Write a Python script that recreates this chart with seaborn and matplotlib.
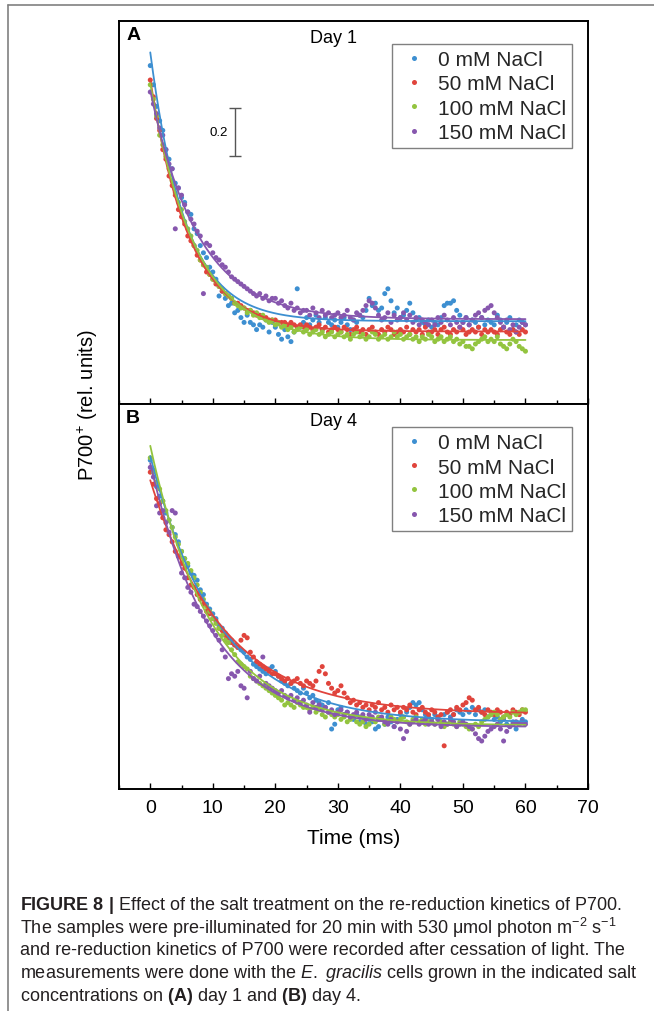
import numpy as np
import pandas as pd
import matplotlib
matplotlib.use("Agg")
import matplotlib.pyplot as plt
import seaborn as sns
from matplotlib.lines import Line2D
from matplotlib.ticker import MultipleLocator

sns.set_theme(style="white")
plt.rcParams['font.family'] = ['Liberation Sans', 'DejaVu Sans']
plt.rcParams['mathtext.fontset'] = 'custom'
plt.rcParams['mathtext.rm'] = 'Liberation Sans'
plt.rcParams['mathtext.it'] = 'Liberation Sans:italic'
plt.rcParams['mathtext.bf'] = 'Liberation Sans:bold'

#Data
CONDITIONS = ["0 mM NaCl", "50 mM NaCl", "100 mM NaCl", "150 mM NaCl"]
COLORS = ["#3d8fd1", "#e0443c", "#93c43f", "#8757ae"]
TIME_STEP = 0.5  # ms between recorded points
time_ms = np.arange(121) * TIME_STEP

# Day 1, P700+ signal (rel. units)
day1_0mM = [1.41, 1.33, 1.24, 1.18, 1.14, 1.06, 1.02, 0.98, 0.92, 0.90,
            0.86, 0.84, 0.80, 0.79, 0.73, 0.71, 0.66, 0.63, 0.61, 0.57,
            0.55, 0.52, 0.45, 0.47, 0.44, 0.41, 0.42, 0.38, 0.39, 0.36,
            0.34, 0.37, 0.34, 0.33, 0.31, 0.33, 0.32, 0.35, 0.30, 0.34,
            0.32, 0.29, 0.27, 0.31, 0.28, 0.26, 0.30, 0.48, 0.32, 0.34,
            0.36, 0.33, 0.35, 0.37, 0.34, 0.31, 0.36, 0.34, 0.33, 0.35,
            0.32, 0.34, 0.36, 0.33, 0.31, 0.35, 0.34, 0.37, 0.36, 0.39,
            0.44, 0.41, 0.42, 0.39, 0.40, 0.46, 0.48, 0.43, 0.38, 0.40,
            0.36, 0.37, 0.39, 0.42, 0.38, 0.35, 0.36, 0.34, 0.33, 0.35,
            0.32, 0.34, 0.33, 0.36, 0.41, 0.42, 0.42, 0.43, 0.39, 0.37,
            0.34, 0.36, 0.33, 0.35, 0.34, 0.32, 0.36, 0.33, 0.35, 0.34,
            0.33, 0.37, 0.35, 0.32, 0.34, 0.36, 0.31, 0.33, 0.35, 0.34,
            0.33]
day1_50mM = [1.35, 1.28, 1.19, 1.14, 1.06, 1.02, 0.95, 0.91, 0.87, 0.81,
             0.78, 0.75, 0.70, 0.68, 0.66, 0.62, 0.60, 0.58, 0.55, 0.54,
             0.52, 0.50, 0.49, 0.47, 0.46, 0.45, 0.44, 0.42, 0.42, 0.41,
             0.40, 0.39, 0.39, 0.38, 0.37, 0.37, 0.36, 0.36, 0.35, 0.35,
             0.35, 0.34, 0.34, 0.34, 0.33, 0.34, 0.33, 0.32, 0.33, 0.32,
             0.33, 0.32, 0.31, 0.32, 0.33, 0.31, 0.32, 0.30, 0.31, 0.32,
             0.31, 0.30, 0.32, 0.31, 0.29, 0.31, 0.32, 0.30, 0.31, 0.29,
             0.31, 0.32, 0.30, 0.29, 0.31, 0.30, 0.32, 0.31, 0.29, 0.30,
             0.31, 0.30, 0.32, 0.29, 0.31, 0.30, 0.31, 0.29, 0.32, 0.30,
             0.30, 0.31, 0.29, 0.31, 0.32, 0.30, 0.29, 0.31, 0.30, 0.32,
             0.31, 0.29, 0.30, 0.31, 0.30, 0.32, 0.29, 0.31, 0.30, 0.31,
             0.30, 0.29, 0.31, 0.32, 0.30, 0.29, 0.31, 0.30, 0.29, 0.31,
             0.30]
day1_100mM = [1.33, 1.27, 1.20, 1.12, 1.08, 1.03, 0.98, 0.93, 0.88, 0.84,
              0.81, 0.76, 0.73, 0.70, 0.66, 0.64, 0.60, 0.58, 0.57, 0.54,
              0.52, 0.51, 0.49, 0.48, 0.46, 0.45, 0.44, 0.42, 0.41, 0.40,
              0.40, 0.38, 0.39, 0.37, 0.38, 0.36, 0.37, 0.35, 0.34, 0.35,
              0.33, 0.34, 0.32, 0.33, 0.31, 0.32, 0.30, 0.31, 0.32, 0.30,
              0.31, 0.29, 0.30, 0.31, 0.29, 0.30, 0.28, 0.29, 0.30, 0.28,
              0.29, 0.30, 0.28, 0.29, 0.27, 0.29, 0.30, 0.28, 0.29, 0.27,
              0.28, 0.30, 0.29, 0.27, 0.28, 0.29, 0.27, 0.28, 0.30, 0.28,
              0.29, 0.27, 0.28, 0.29, 0.27, 0.28, 0.26, 0.28, 0.27, 0.29,
              0.28, 0.26, 0.27, 0.28, 0.26, 0.27, 0.28, 0.26, 0.27, 0.25,
              0.26, 0.24, 0.24, 0.23, 0.25, 0.26, 0.27, 0.28, 0.26, 0.27,
              0.26, 0.28, 0.25, 0.24, 0.23, 0.25, 0.27, 0.26, 0.24, 0.23,
              0.22]
day1_150mM = [1.30, 1.25, 1.21, 1.15, 1.12, 1.06, 1.00, 0.98, 0.73, 0.90,
              0.87, 0.83, 0.80, 0.77, 0.75, 0.72, 0.70, 0.46, 0.67, 0.66,
              0.63, 0.61, 0.60, 0.58, 0.57, 0.55, 0.53, 0.52, 0.51, 0.50,
              0.49, 0.48, 0.47, 0.46, 0.45, 0.46, 0.44, 0.45, 0.43, 0.44,
              0.44, 0.42, 0.43, 0.41, 0.40, 0.42, 0.39, 0.40, 0.38, 0.39,
              0.39, 0.37, 0.40, 0.38, 0.36, 0.39, 0.37, 0.38, 0.36, 0.37,
              0.38, 0.36, 0.37, 0.39, 0.36, 0.35, 0.38, 0.37, 0.39, 0.41,
              0.43, 0.42, 0.40, 0.37, 0.35, 0.36, 0.38, 0.34, 0.37, 0.35,
              0.36, 0.38, 0.35, 0.37, 0.34, 0.36, 0.33, 0.35, 0.34, 0.33,
              0.35, 0.33, 0.36, 0.34, 0.37, 0.35, 0.33, 0.36, 0.34, 0.32,
              0.34, 0.36, 0.33, 0.35, 0.37, 0.38, 0.36, 0.39, 0.40, 0.41,
              0.38, 0.36, 0.34, 0.32, 0.35, 0.31, 0.33, 0.30, 0.32, 0.34,
              0.33]

# Day 4, P700+ signal (rel. units)
day4_0mM = [1.37, 1.33, 1.26, 1.22, 1.20, 1.15, 1.12, 1.09, 1.06, 1.03,
            0.99, 0.96, 0.93, 0.90, 0.89, 0.87, 0.83, 0.81, 0.77, 0.75,
            0.73, 0.71, 0.68, 0.67, 0.65, 0.63, 0.62, 0.60, 0.59, 0.58,
            0.57, 0.55, 0.54, 0.52, 0.51, 0.50, 0.49, 0.48, 0.50, 0.51,
            0.49, 0.47, 0.45, 0.44, 0.43, 0.44, 0.42, 0.41, 0.40, 0.42,
            0.40, 0.38, 0.39, 0.37, 0.36, 0.35, 0.34, 0.36, 0.25, 0.27,
            0.33, 0.34, 0.31, 0.32, 0.30, 0.29, 0.31, 0.28, 0.30, 0.27,
            0.29, 0.28, 0.25, 0.26, 0.29, 0.27, 0.30, 0.28, 0.26, 0.29,
            0.31, 0.30, 0.32, 0.34, 0.36, 0.35, 0.36, 0.33, 0.31, 0.30,
            0.29, 0.31, 0.30, 0.28, 0.31, 0.32, 0.30, 0.31, 0.33, 0.32,
            0.31, 0.33, 0.32, 0.34, 0.31, 0.33, 0.32, 0.33, 0.30, 0.31,
            0.29, 0.30, 0.28, 0.29, 0.27, 0.26, 0.28, 0.25, 0.27, 0.29,
            0.28]
day4_50mM = [1.32, 1.27, 1.21, 1.19, 1.13, 1.08, 1.06, 1.03, 0.99, 0.97,
             0.94, 0.92, 0.88, 0.85, 0.84, 0.81, 0.79, 0.77, 0.74, 0.73,
             0.71, 0.70, 0.67, 0.66, 0.64, 0.63, 0.61, 0.60, 0.59, 0.62,
             0.64, 0.63, 0.57, 0.55, 0.53, 0.52, 0.51, 0.50, 0.49, 0.48,
             0.48, 0.47, 0.46, 0.45, 0.46, 0.44, 0.45, 0.46, 0.44, 0.43,
             0.45, 0.44, 0.43, 0.45, 0.49, 0.51, 0.48, 0.44, 0.42, 0.40,
             0.41, 0.43, 0.40, 0.38, 0.36, 0.37, 0.35, 0.36, 0.34, 0.35,
             0.33, 0.35, 0.34, 0.36, 0.33, 0.34, 0.32, 0.35, 0.33, 0.34,
             0.32, 0.34, 0.33, 0.35, 0.32, 0.31, 0.33, 0.34, 0.32, 0.31,
             0.33, 0.32, 0.30, 0.31, 0.18, 0.32, 0.33, 0.31, 0.34, 0.33,
             0.35, 0.36, 0.38, 0.37, 0.33, 0.34, 0.32, 0.31, 0.33, 0.32,
             0.31, 0.33, 0.32, 0.30, 0.32, 0.31, 0.33, 0.32, 0.31, 0.33,
             0.32]
day4_100mM = [1.38, 1.32, 1.28, 1.25, 1.20, 1.16, 1.12, 1.09, 1.05, 1.02,
              0.99, 0.96, 0.94, 0.91, 0.88, 0.85, 0.82, 0.79, 0.76, 0.74,
              0.71, 0.69, 0.67, 0.64, 0.62, 0.61, 0.58, 0.56, 0.53, 0.52,
              0.51, 0.50, 0.47, 0.46, 0.45, 0.44, 0.43, 0.42, 0.41, 0.40,
              0.39, 0.38, 0.37, 0.35, 0.36, 0.35, 0.34, 0.36, 0.35, 0.34,
              0.34, 0.33, 0.34, 0.32, 0.33, 0.31, 0.30, 0.32, 0.31, 0.30,
              0.31, 0.29, 0.30, 0.28, 0.29, 0.30, 0.28, 0.27, 0.28, 0.26,
              0.27, 0.29, 0.28, 0.30, 0.29, 0.27, 0.28, 0.30, 0.29, 0.28,
              0.29, 0.30, 0.28, 0.27, 0.29, 0.30, 0.28, 0.29, 0.27, 0.28,
              0.28, 0.27, 0.29, 0.28, 0.26, 0.27, 0.28, 0.27, 0.26, 0.28,
              0.27, 0.26, 0.25, 0.25, 0.27, 0.26, 0.28, 0.29, 0.30, 0.31,
              0.32, 0.31, 0.29, 0.30, 0.31, 0.30, 0.32, 0.31, 0.32, 0.33,
              0.33]
day4_150mM = [1.34, 1.30, 1.18, 1.15, 1.16, 1.11, 1.07, 1.16, 1.15, 0.97,
              0.90, 0.88, 0.84, 0.82, 0.77, 0.76, 0.74, 0.72, 0.70, 0.68,
              0.66, 0.64, 0.62, 0.58, 0.55, 0.46, 0.48, 0.47, 0.49, 0.43,
              0.42, 0.38, 0.49, 0.46, 0.45, 0.47, 0.55, 0.44, 0.43, 0.42,
              0.41, 0.40, 0.41, 0.39, 0.38, 0.39, 0.37, 0.38, 0.36, 0.37,
              0.35, 0.32, 0.36, 0.34, 0.35, 0.33, 0.34, 0.32, 0.33, 0.31,
              0.32, 0.33, 0.31, 0.32, 0.30, 0.31, 0.32, 0.30, 0.31, 0.29,
              0.31, 0.30, 0.32, 0.29, 0.30, 0.28, 0.27, 0.29, 0.26, 0.28,
              0.25, 0.21, 0.24, 0.27, 0.28, 0.29, 0.27, 0.28, 0.29, 0.27,
              0.28, 0.27, 0.29, 0.26, 0.28, 0.27, 0.29, 0.28, 0.26, 0.27,
              0.28, 0.27, 0.26, 0.25, 0.23, 0.21, 0.20, 0.22, 0.24, 0.25,
              0.26, 0.27, 0.25, 0.20, 0.24, 0.26, 0.27, 0.28, 0.27, 0.28,
              0.27]

PANELS = [("A", "Day 1", [day1_0mM, day1_50mM, day1_100mM, day1_150mM]),
          ("B", "Day 4", [day4_0mM, day4_50mM, day4_100mM, day4_150mM])]


#Single exponential fit: y = a*exp(-t/tau) + c (grid over tau, least squares for a, c)
def fit_decay(t, y):
    y = np.asarray(y)
    best = None
    for tau in np.arange(3, 25, 0.05):
        basis = np.column_stack([np.exp(-t / tau), np.ones_like(t)])
        coef = np.linalg.lstsq(basis, y, rcond=None)[0]
        err = np.sum((basis @ coef - y) ** 2)
        if best is None or err < best[0]:
            best = (err, tau, coef)
    return best[1], best[2]


fig = plt.figure(figsize=(6.54, 10.12), dpi=100)
axes = [fig.add_axes([119/654, 1-405/1012, 469/654, 383/1012]),
        fig.add_axes([119/654, 1-790/1012, 469/654, 385/1012])]
y_tops = [383/240, 385/240]

t_fit = np.linspace(0, 60, 400)
for ax, (letter, day, series), ytop in zip(axes, PANELS, y_tops):
    df = pd.concat([pd.DataFrame({"time": time_ms, "signal": vals, "NaCl": cond})
                    for cond, vals in zip(CONDITIONS, series)], ignore_index=True)
    sns.scatterplot(data=df, x="time", y="signal", hue="NaCl", hue_order=CONDITIONS,
                    palette=COLORS, s=13, linewidth=0, ax=ax)
    for cond, vals, col in zip(CONDITIONS, series, COLORS):
        tau, (a, c) = fit_decay(time_ms, vals)
        sns.lineplot(x=t_fit, y=a * np.exp(-t_fit / tau) + c, color=col, lw=1.3,
                     ax=ax, legend=False)

    ax.set_xlim(-5, 70)
    ax.set_ylim(0, ytop)
    ax.set_yticks([])
    ax.set_xlabel("")
    ax.set_ylabel("")
    ax.xaxis.set_major_locator(MultipleLocator(10))
    ax.xaxis.set_minor_locator(MultipleLocator(5))
    ax.tick_params(axis="x", which="both", direction="in", bottom=True, top=False,
                   labelsize=14, colors="black", width=1)
    ax.tick_params(axis="x", which="major", length=4.5, pad=7)
    ax.tick_params(axis="x", which="minor", length=3)
    for sp in ax.spines.values():
        sp.set_color("black")
        sp.set_linewidth(1.4)

    ax.text(0.015, 0.986, letter, transform=ax.transAxes, ha="left", va="top",
            fontsize=14, fontweight="bold", color="black")
    ax.text(0.458, 0.958, day, transform=ax.transAxes, ha="center", va="center",
            fontsize=13, color="black")
    sns.move_legend(ax, "upper right", bbox_to_anchor=(0.966, 0.94), title=None,
                    frameon=True, fancybox=False, edgecolor="#808080", framealpha=1,
                    fontsize=15, handlelength=1.5, handletextpad=0.4,
                    labelspacing=0.25, borderpad=0.3, borderaxespad=0)
    ax.get_legend().get_frame().set_linewidth(1.0)

axes[0].tick_params(axis="x", labelbottom=False)
axes[1].set_xlabel("Time (ms)", fontsize=15, color="black", labelpad=9)

# scale bar
axes[0].errorbar(13.5, 1.133, yerr=0.1, fmt="none", ecolor="#555555", elinewidth=1,
                 capsize=4, capthick=1)
axes[0].text(12.4, 1.133, "0.2", ha="right", va="center", fontsize=9.5, color="black")

fig.text(88/654, 1-405/1012, "P700$^{+}$ (rel. units)", rotation=90, ha="center",
         va="center", fontsize=14.5, color="black")

# page frame
fig.add_artist(Line2D([8/654, 8/654], [0, 1-6/1012], transform=fig.transFigure,
                      color="#808080", lw=1.2))
fig.add_artist(Line2D([8/654, 1], [1-6/1012, 1-6/1012], transform=fig.transFigure,
                      color="#808080", lw=1.2))

caption = [r"$\mathbf{FIGURE\ 8\ |}$ Effect of the salt treatment on the re-reduction kinetics of P700.",
           "The samples were pre-illuminated for 20 min with 530 \u03bcmol photon m$^{-2}$ s$^{-1}$",
           "and re-reduction kinetics of P700 were recorded after cessation of light. The",
           r"measurements were done with the $\mathit{E.}$ $\mathit{gracilis}$ cells grown in the indicated salt",
           r"concentrations on $\mathbf{(A)}$ day 1 and $\mathbf{(B)}$ day 4."]
for i, line in enumerate(caption):
    fig.text(20/654, 1-(905 + 23*i)/1012, line, ha="left", va="center",
             fontsize=13.0, color="#231f20")

fig.savefig("out.png", dpi=100)
